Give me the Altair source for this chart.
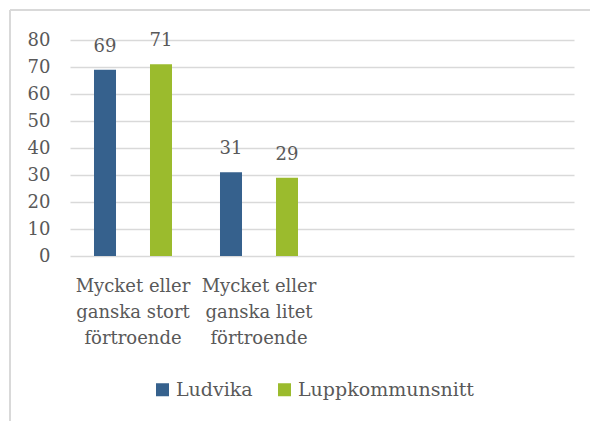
import altair as alt
import pandas as pd

# categories (line breaks marked with |), plus two empty slots seen on the right
categories = ["Mycket eller|ganska stort|förtroende", "Mycket eller|ganska litet|förtroende"]
empty_slots = [" ", "  "]
series = ["Ludvika", "Luppkommunsnitt"]
ludvika = [69, 31]
lupp = [71, 29]
colors = ["#36618d", "#9bbb2d"]
y_ticks = [0, 10, 20, 30, 40, 50, 60, 70, 80]

rows = []
for c, a, b in zip(categories, ludvika, lupp):
    rows.append({"cat": c, "serie": series[0], "value": a})
    rows.append({"cat": c, "serie": series[1], "value": b})
df = pd.DataFrame(rows)

FONT = "DejaVu Serif"
GRAY = "#595959"
LINE = "#d9d9d9"

x_enc = alt.X("cat:N", sort=None,
              scale=alt.Scale(domain=categories + empty_slots, paddingInner=0, paddingOuter=0),
              axis=alt.Axis(title=None, labelAngle=0, ticks=False, domain=False,
                            labelExpr="split(datum.value, '|')",
                            labelFont=FONT, labelFontSize=18,
                            labelLineHeight=26, labelPadding=21, labelBaseline="top"))
xo_enc = alt.XOffset("serie:N", sort=series,
                     scale=alt.Scale(domain=series, paddingInner=0.607, paddingOuter=0.4286))
y_enc = alt.Y("value:Q",
              scale=alt.Scale(domain=[0, 80], nice=False),
              axis=alt.Axis(title=None, values=y_ticks, ticks=False, domain=False,
                            labelFont=FONT, labelFontSize=18,
                            grid=True, labelOverlap=False, labelPadding=20))

bars = alt.Chart(df).mark_bar().encode(
    x=x_enc, xOffset=xo_enc, y=y_enc,
    color=alt.Color("serie:N", sort=series,
                    scale=alt.Scale(domain=series, range=colors),
                    legend=alt.Legend(title=None, orient="none", direction="horizontal",
                                      legendX=83, legendY=340,
                                      symbolType="square", symbolSize=169,
                                      symbolStrokeWidth=0, labelLimit=400,
                                      labelFont=FONT, labelFontSize=19,
                                      labelOffset=4, columnPadding=22)),
)

labels = alt.Chart(df).mark_text(font=FONT, fontSize=18, color=GRAY,
                                 baseline="alphabetic", dy=-18).encode(
    x=x_enc, xOffset=xo_enc, y=y_enc, text=alt.Text("value:Q", format="d"),
)

frame_left = alt.Chart(df).mark_rule(color=LINE, strokeWidth=1.5).encode(
    x=alt.value(-60), y=alt.value(-30), y2=alt.value(420))
frame_top = alt.Chart(df).mark_rule(color=LINE, strokeWidth=1.5).encode(
    x=alt.value(-60), x2=alt.value(560), y=alt.value(-30))

chart = alt.layer(bars, labels, frame_left, frame_top).properties(
    width=504, height=216,
    autosize=alt.AutoSizeParams(type="none"),
    padding={"left": 62, "top": 32, "right": 16, "bottom": 165},
).configure_view(stroke=None).configure_axis(
    labelColor=GRAY, gridColor=LINE, gridWidth=1.5,
).configure_legend(
    labelColor=GRAY,
)

chart.save("out.html", embed_options={"renderer": "svg", "actions": False})
